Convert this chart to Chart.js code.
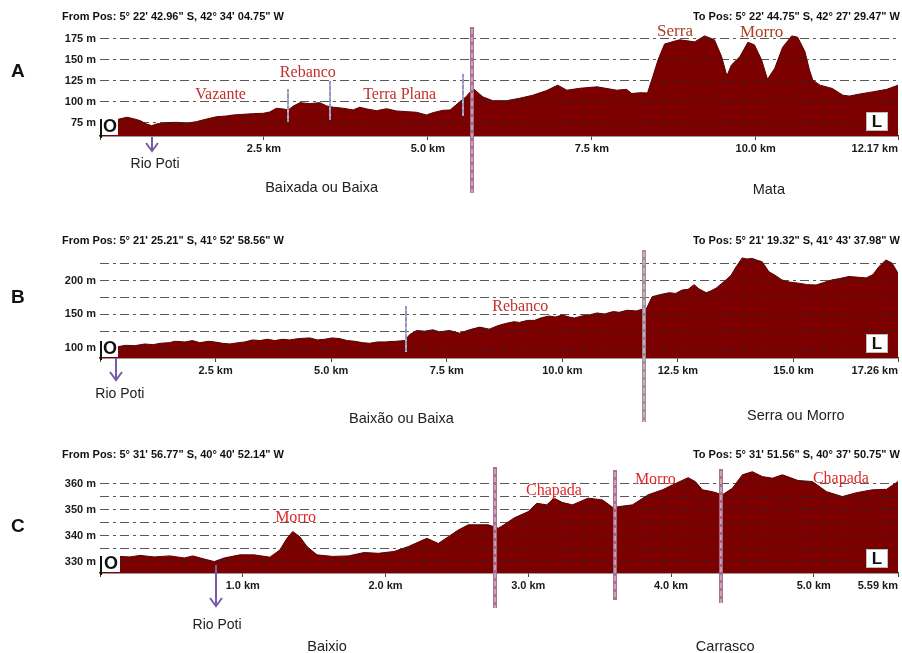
<!DOCTYPE html>
<html>
<head>
<meta charset="utf-8">
<script src="https://cdn.jsdelivr.net/npm/chart.js@4.4.1/dist/chart.umd.min.js"></script>
<style>
  html, body { margin: 0; padding: 0; background: #fff; }
  #wrap { position: relative; width: 902px; height: 653px; overflow: hidden; }
  canvas { position: absolute; left: 0; }
</style>
</head>
<body>
<div id="wrap">
  <canvas id="chartA" width="902" height="205" style="top:0px"></canvas>
  <canvas id="chartB" width="902" height="220" style="top:205px"></canvas>
  <canvas id="chartC" width="902" height="228" style="top:425px"></canvas>
</div>
<script>
// --- profile A (12.17 km)
const kmA = [0, 0.28, 0.41, 0.51, 0.61, 0.71, 0.79, 0.86, 1.02, 1.17, 1.32, 1.47, 1.63, 1.78, 1.93, 2.03, 2.18, 2.34, 2.49, 2.59,
  2.69, 2.79, 2.87, 2.95, 3.05, 3.20, 3.35, 3.46, 3.56, 3.71, 3.86, 3.96, 4.07, 4.22, 4.37, 4.52, 4.68, 4.83, 4.98, 5.08,
  5.23, 5.34, 5.49, 5.58, 5.69, 5.84, 5.99, 6.20, 6.40, 6.60, 6.81, 6.98, 7.12, 7.32, 7.58, 7.73, 7.88, 8.03, 8.11, 8.23,
  8.35, 8.43, 8.51, 8.61, 8.84, 9.07, 9.22, 9.37, 9.48, 9.56, 9.63, 9.76, 9.88, 9.98, 10.09, 10.18, 10.29, 10.41, 10.55, 10.64,
  10.75, 10.82, 10.87, 10.98, 11.17, 11.33, 11.43, 11.59, 11.78, 12.00, 12.17];
const elevA = [78, 79.4, 81.8, 80.1, 77.8, 73.8, 71.8, 73.8, 75.4, 75.8, 74.6, 76.6, 79.8, 82.5, 83.3, 84.5, 85.3, 86.1, 86.5, 88.1,
  92.5, 91.7, 90.5, 95.2, 99.2, 98, 99.2, 95.2, 93.7, 92.5, 90.5, 93.7, 91.7, 89.6, 92, 89.3, 88.5, 87.7, 84.5, 87.3,
  90.1, 90.5, 100.4, 106, 116, 106, 101.5, 101.5, 104.4, 108, 113.5, 120, 114, 116.3, 118, 116, 114, 115, 110, 111,
  110.7, 130, 150, 169, 174, 171.5, 178.6, 174, 154, 131, 144, 154, 171, 168, 150, 127, 140, 165, 178.6, 177,
  160, 138, 126, 120, 116, 108, 107, 109.5, 112, 115, 120];
const kmTicksA = [0, 2.5, 5, 7.5, 10, 12.17];
const kmLabelsA = ['', '2.5 km', '5.0 km', '7.5 km', '10.0 km', '12.17 km'];
const gridA = [75, 100, 125, 150, 175];
const mLabelsA = [75, 100, 125, 150, 175];

// --- profile B (17.26 km)
const kmB = [0, 0.39, 0.55, 0.75, 0.97, 1.15, 1.30, 1.50, 1.62, 1.84, 2.00, 2.16, 2.35, 2.48, 2.65, 2.81, 3.00, 3.13, 3.30, 3.46,
  3.62, 3.78, 3.95, 4.10, 4.30, 4.54, 4.70, 4.86, 5.02, 5.18, 5.35, 5.51, 5.67, 5.83, 6.00, 6.16, 6.40, 6.59, 6.70, 6.85,
  7.02, 7.20, 7.34, 7.56, 7.78, 7.99, 8.21, 8.42, 8.60, 8.75, 8.95, 9.07, 9.25, 9.40, 9.55, 9.72, 9.85, 10.00, 10.15, 10.26,
  10.45, 10.58, 10.75, 10.91, 11.10, 11.23, 11.40, 11.60, 11.75, 11.81, 11.94, 12.10, 12.31, 12.45, 12.59, 12.72, 12.85, 12.95, 13.11, 13.22,
  13.33, 13.54, 13.65, 13.76, 13.89, 14.00, 14.10, 14.22, 14.32, 14.47, 14.60, 14.75, 14.90, 15.12, 15.30, 15.49, 15.65, 15.83, 16.00, 16.20,
  16.40, 16.57, 16.72, 16.85, 17.00, 17.13, 17.26];
const elevB = [103, 102, 104, 103.5, 106, 105, 107, 108, 110, 109, 111, 108, 110, 109, 107, 106, 108, 109, 112, 111,
  113, 111, 113, 112, 114, 115, 112, 113, 115, 114, 111, 110, 108, 107, 109, 109, 110, 111, 120, 126,
  125, 127, 124, 126, 122, 127, 131, 128, 133, 136, 139, 138, 141, 141, 145, 147.5, 146, 149, 146, 144.5,
  148, 149, 152, 150.5, 154, 153, 156, 155, 158, 157, 176, 179, 182, 181, 186, 187, 194, 188, 182, 185,
  189, 201, 208, 220.6, 233.6, 232, 233, 230, 228, 213, 208, 201, 198, 196, 194, 193.5, 197, 201, 203, 206,
  205, 204, 209, 221, 230.6, 226, 211];
const kmTicksB = [0, 2.5, 5, 7.5, 10, 12.5, 15, 17.26];
const kmLabelsB = ['', '2.5 km', '5.0 km', '7.5 km', '10.0 km', '12.5 km', '15.0 km', '17.26 km'];
const gridB = [100, 125, 150, 175, 200, 225];
const mLabelsB = [100, 150, 200];

// --- profile C (5.59 km)
const kmC = [0, 0.14, 0.21, 0.28, 0.38, 0.49, 0.59, 0.65, 0.73, 0.80, 0.87, 0.98, 1.08, 1.19, 1.26, 1.31, 1.35, 1.40, 1.45, 1.52,
  1.63, 1.74, 1.85, 1.95, 2.06, 2.16, 2.29, 2.37, 2.44, 2.51, 2.58, 2.72, 2.79, 2.83, 2.90, 3.00, 3.06, 3.13, 3.18, 3.24,
  3.31, 3.42, 3.52, 3.59, 3.63, 3.73, 3.84, 3.94, 4.01, 4.12, 4.17, 4.22, 4.29, 4.36, 4.43, 4.50, 4.57, 4.64, 4.71, 4.78,
  4.89, 4.99, 5.09, 5.20, 5.30, 5.41, 5.51, 5.59];
const elevC = [332, 332, 331.8, 332.4, 331.8, 332.2, 331.4, 332.2, 331, 330, 331.4, 332.6, 332.6, 331.7, 334.5, 339, 341.6, 339.6, 335.8, 332.6,
  332, 332.2, 333.5, 333.2, 333.9, 335.8, 339, 337, 339.6, 342.2, 344.2, 344.2, 342.9, 344.2, 346.8, 349.3, 352.5, 351.9, 354.5, 352.8,
  351.9, 354.5, 353.8, 351, 351.2, 351.9, 355.8, 357.7, 359.6, 362.4, 360.9, 357.7, 357, 355.8, 358.3, 363.5, 364.7, 362.8, 362.2, 363.5,
  361.3, 360.9, 357, 355.1, 356.6, 357.7, 357.9, 360.9];
const kmTicksC = [0, 1, 2, 3, 4, 5, 5.59];
const kmLabelsC = ['', '1.0 km', '2.0 km', '3.0 km', '4.0 km', '5.0 km', '5.59 km'];
const gridC = [330, 335, 340, 345, 350, 355, 360];
const mLabelsC = [330, 340, 350, 360];

// annotation layout (y in canvas pixels, x through the km scale)
const decorA = {
  letter: 'A', letterY: 72, headY: 17,
  from: `From Pos: 5° 22' 42.96" S, 42° 34' 04.75" W`,
  to: `To Pos: 5° 22' 44.75" S, 42° 27' 29.47" W`,
  labels: [
    { t: 'Vazante', km: 1.84, y: 95, size: 16, c: '#c2302c' },
    { t: 'Rebanco', km: 3.17, y: 73, size: 16, c: '#c2302c' },
    { t: 'Terra Plana', km: 4.57, y: 95, size: 16, c: '#c2302c' },
    { t: 'Serra', km: 8.77, y: 32, size: 17, c: '#a8402a' },
    { t: 'Morro', km: 10.09, y: 33, size: 17, c: '#a8402a' }
  ],
  thin: [{ km: 2.87, y0: 89, y1: 122 }, { km: 3.51, y0: 81, y1: 120 }, { km: 5.53, y0: 74, y1: 116 }],
  mauve: [{ km: 5.67, y0: 27, y1: 193, c: 'rgba(165,105,138,0.95)' }],
  arrow: { km: 0.79, y0: 137, y1: 151, textKm: 0.84, textY: 164 },
  regions: [{ t: 'Baixada ou Baixa', km: 3.38, y: 188 }, { t: 'Mata', km: 10.2, y: 190 }],
  oW: 18
};
const decorB = {
  letter: 'B', letterY: 93, headY: 36,
  from: `From Pos: 5° 21' 25.21" S, 41° 52' 58.56" W`,
  to: `To Pos: 5° 21' 19.32" S, 41° 43' 37.98" W`,
  labels: [{ t: 'Rebanco', km: 9.09, y: 102, size: 16, c: '#c2302c' }],
  thin: [{ km: 6.61, y0: 101, y1: 147 }],
  mauve: [{ km: 11.77, y0: 45, y1: 217, c: 'rgba(160,135,148,0.95)' }],
  arrow: { km: 0.35, y0: 153, y1: 175, textKm: 0.43, textY: 189 },
  regions: [{ t: 'Baixão ou Baixa', km: 6.52, y: 214 }, { t: 'Serra ou Morro', km: 15.05, y: 211 }],
  oW: 18
};
const decorC = {
  letter: 'C', letterY: 102, headY: 30,
  from: `From Pos: 5° 31' 56.77" S, 40° 40' 52.14" W`,
  to: `To Pos: 5° 31' 51.56" S, 40° 37' 50.75" W`,
  labels: [
    { t: 'Morro', km: 1.37, y: 93, size: 16, c: '#e02a2a' },
    { t: 'Chapada', km: 3.18, y: 66, size: 16, c: '#e02a2a' },
    { t: 'Morro', km: 3.89, y: 55, size: 16, c: '#e02a2a' },
    { t: 'Chapada', km: 5.19, y: 54, size: 16, c: '#e02a2a' }
  ],
  thin: [],
  mauve: [
    { km: 2.77, y0: 42, y1: 183, c: 'rgba(165,105,138,0.95)' },
    { km: 3.61, y0: 45, y1: 175, c: 'rgba(165,105,138,0.95)' },
    { km: 4.35, y0: 44, y1: 178, c: 'rgba(165,105,138,0.95)' }
  ],
  arrow: { km: 0.81, y0: 140, y1: 181, textKm: 0.82, textY: 200 },
  regions: [{ t: 'Baixio', km: 1.59, y: 222 }, { t: 'Carrasco', km: 4.38, y: 222 }],
  oW: 20
};

const sans = '"Liberation Sans", Arial, sans-serif';
const serif = '"Liberation Serif", "Times New Roman", serif';
Chart.defaults.font.family = sans;

function makeDecor(d) {
  return {
    id: 'decor' + d.letter,
    afterDraw(chart) {
      const ctx = chart.ctx, xs = chart.scales.x, a = chart.chartArea;
      ctx.save();
      ctx.textBaseline = 'middle';

      // panel letter and header
      ctx.fillStyle = '#111';
      ctx.font = 'bold 19px ' + sans;
      ctx.textAlign = 'left';
      ctx.fillText(d.letter, 11, d.letterY);
      ctx.font = 'bold 11px ' + sans;
      ctx.fillText(d.from, 62, d.headY);
      ctx.textAlign = 'right';
      ctx.fillText(d.to, 900, d.headY);

      // thin markers
      d.thin.forEach(t => {
        const x = Math.round(xs.getPixelForValue(t.km));
        ctx.strokeStyle = '#9496bf';
        ctx.lineWidth = 2;
        ctx.beginPath(); ctx.moveTo(x, t.y0); ctx.lineTo(x, t.y1); ctx.stroke();
        ctx.setLineDash([2, 4]);
        ctx.strokeStyle = 'rgba(235,235,245,0.7)';
        ctx.lineWidth = 1;
        ctx.beginPath(); ctx.moveTo(x, t.y0 + 3); ctx.lineTo(x, t.y1); ctx.stroke();
        ctx.setLineDash([]);
      });

      // thick dashed boundaries
      d.mauve.forEach(m => {
        const x = Math.round(xs.getPixelForValue(m.km));
        ctx.setLineDash([]);
        ctx.strokeStyle = m.c;
        ctx.lineWidth = 4;
        ctx.beginPath(); ctx.moveTo(x, m.y0); ctx.lineTo(x, m.y1); ctx.stroke();
        ctx.setLineDash([5, 3]);
        ctx.strokeStyle = 'rgba(240,225,232,0.75)';
        ctx.lineWidth = 1.2;
        ctx.beginPath(); ctx.moveTo(x, m.y0 + 2); ctx.lineTo(x, m.y1); ctx.stroke();
      });
      ctx.setLineDash([]);

      // O / L boxes
      ctx.fillStyle = '#fff';
      ctx.fillRect(a.left, a.bottom - 18, d.oW, 17);
      ctx.strokeStyle = '#111';
      ctx.lineWidth = 2;
      ctx.beginPath(); ctx.moveTo(a.left + 1, a.bottom - 17); ctx.lineTo(a.left + 1, a.bottom + 2); ctx.stroke();
      ctx.fillStyle = '#111';
      ctx.font = 'bold 18px ' + sans;
      ctx.textAlign = 'center';
      ctx.fillText('O', a.left + d.oW / 2 + 1, a.bottom - 9);

      ctx.fillStyle = '#fff';
      ctx.fillRect(a.right - 32, a.bottom - 24, 22, 19);
      ctx.strokeStyle = '#bbb';
      ctx.lineWidth = 1;
      ctx.strokeRect(a.right - 31.5, a.bottom - 23.5, 21, 18);
      ctx.fillStyle = '#111';
      ctx.font = 'bold 17px ' + sans;
      ctx.fillText('L', a.right - 21, a.bottom - 14);

      // red serif place names
      d.labels.forEach(l => {
        ctx.fillStyle = l.c;
        ctx.font = l.size + 'px ' + serif;
        ctx.fillText(l.t, xs.getPixelForValue(l.km), l.y);
      });

      // Rio Poti arrow
      const ar = d.arrow;
      const ax = Math.round(xs.getPixelForValue(ar.km));
      ctx.strokeStyle = '#7a5ba8';
      ctx.lineWidth = 2;
      ctx.beginPath(); ctx.moveTo(ax, ar.y0); ctx.lineTo(ax, ar.y1); ctx.stroke();
      ctx.beginPath();
      ctx.moveTo(ax - 6, ar.y1 - 8); ctx.lineTo(ax, ar.y1); ctx.lineTo(ax + 6, ar.y1 - 8);
      ctx.stroke();
      ctx.fillStyle = '#222';
      ctx.font = '14px ' + sans;
      ctx.fillText('Rio Poti', xs.getPixelForValue(ar.textKm), ar.textY);

      // landscape units
      ctx.font = '14.5px ' + sans;
      d.regions.forEach(r => ctx.fillText(r.t, xs.getPixelForValue(r.km), r.y));

      ctx.restore();
    }
  };
}

function makeChart(id, km, elev, kmTicks, kmLabels, grid, mLabels, yMin, yMax, top, bottom, decor) {
  const canvas = document.getElementById(id);
  const H = canvas.height;
  return new Chart(canvas, {
    type: 'line',
    data: {
      datasets: [{
        data: km.map((k, i) => ({ x: k, y: elev[i] })),
        fill: 'start',
        backgroundColor: '#7d0000',
        borderColor: '#560000',
        borderWidth: 1,
        pointRadius: 0,
        tension: 0
      }]
    },
    options: {
      responsive: false,
      animation: false,
      events: [],
      layout: { padding: { top: top, right: 4, bottom: 0, left: 0 } },
      plugins: { legend: { display: false }, tooltip: { enabled: false } },
      scales: {
        x: {
          type: 'linear',
          min: 0,
          max: kmTicks[kmTicks.length - 1],
          afterBuildTicks: s => { s.ticks = kmTicks.map(v => ({ value: v })); },
          afterFit: s => { s.height = H - bottom; },
          grid: { drawOnChartArea: false, drawTicks: true, tickLength: 4, color: '#444' },
          border: { display: true, color: '#333', width: 1.5 },
          ticks: {
            autoSkip: false, maxRotation: 0, align: 'inner', padding: 2,
            color: '#1a1a1a', font: { size: 11, weight: 'bold' },
            callback: (v, i) => kmLabels[i]
          }
        },
        y: {
          type: 'linear',
          min: yMin,
          max: yMax,
          afterBuildTicks: s => { s.ticks = grid.map(v => ({ value: v })); },
          afterFit: s => { s.width = 100; },
          grid: { drawTicks: false, color: 'rgba(40,40,40,0.78)', lineWidth: 1, z: 1 },
          border: { display: false, dash: [9, 4, 3, 4] },
          ticks: {
            autoSkip: false, padding: 4,
            color: '#1a1a1a', font: { size: 11, weight: 'bold' },
            callback: v => (mLabels.includes(v) ? v + ' m' : '')
          }
        }
      }
    },
    plugins: [makeDecor(decor)]
  });
}

makeChart('chartA', kmA, elevA, kmTicksA, kmLabelsA, gridA, mLabelsA, 59.5, 188, 28, 136, decorA);
makeChart('chartB', kmB, elevB, kmTicksB, kmLabelsB, gridB, mLabelsB, 85.2, 242.4, 47, 153, decorB);
makeChart('chartC', kmC, elevC, kmTicksC, kmLabelsC, gridC, mLabelsC, 325.6, 366.9, 41, 148, decorC);
</script>
</body>
</html>
